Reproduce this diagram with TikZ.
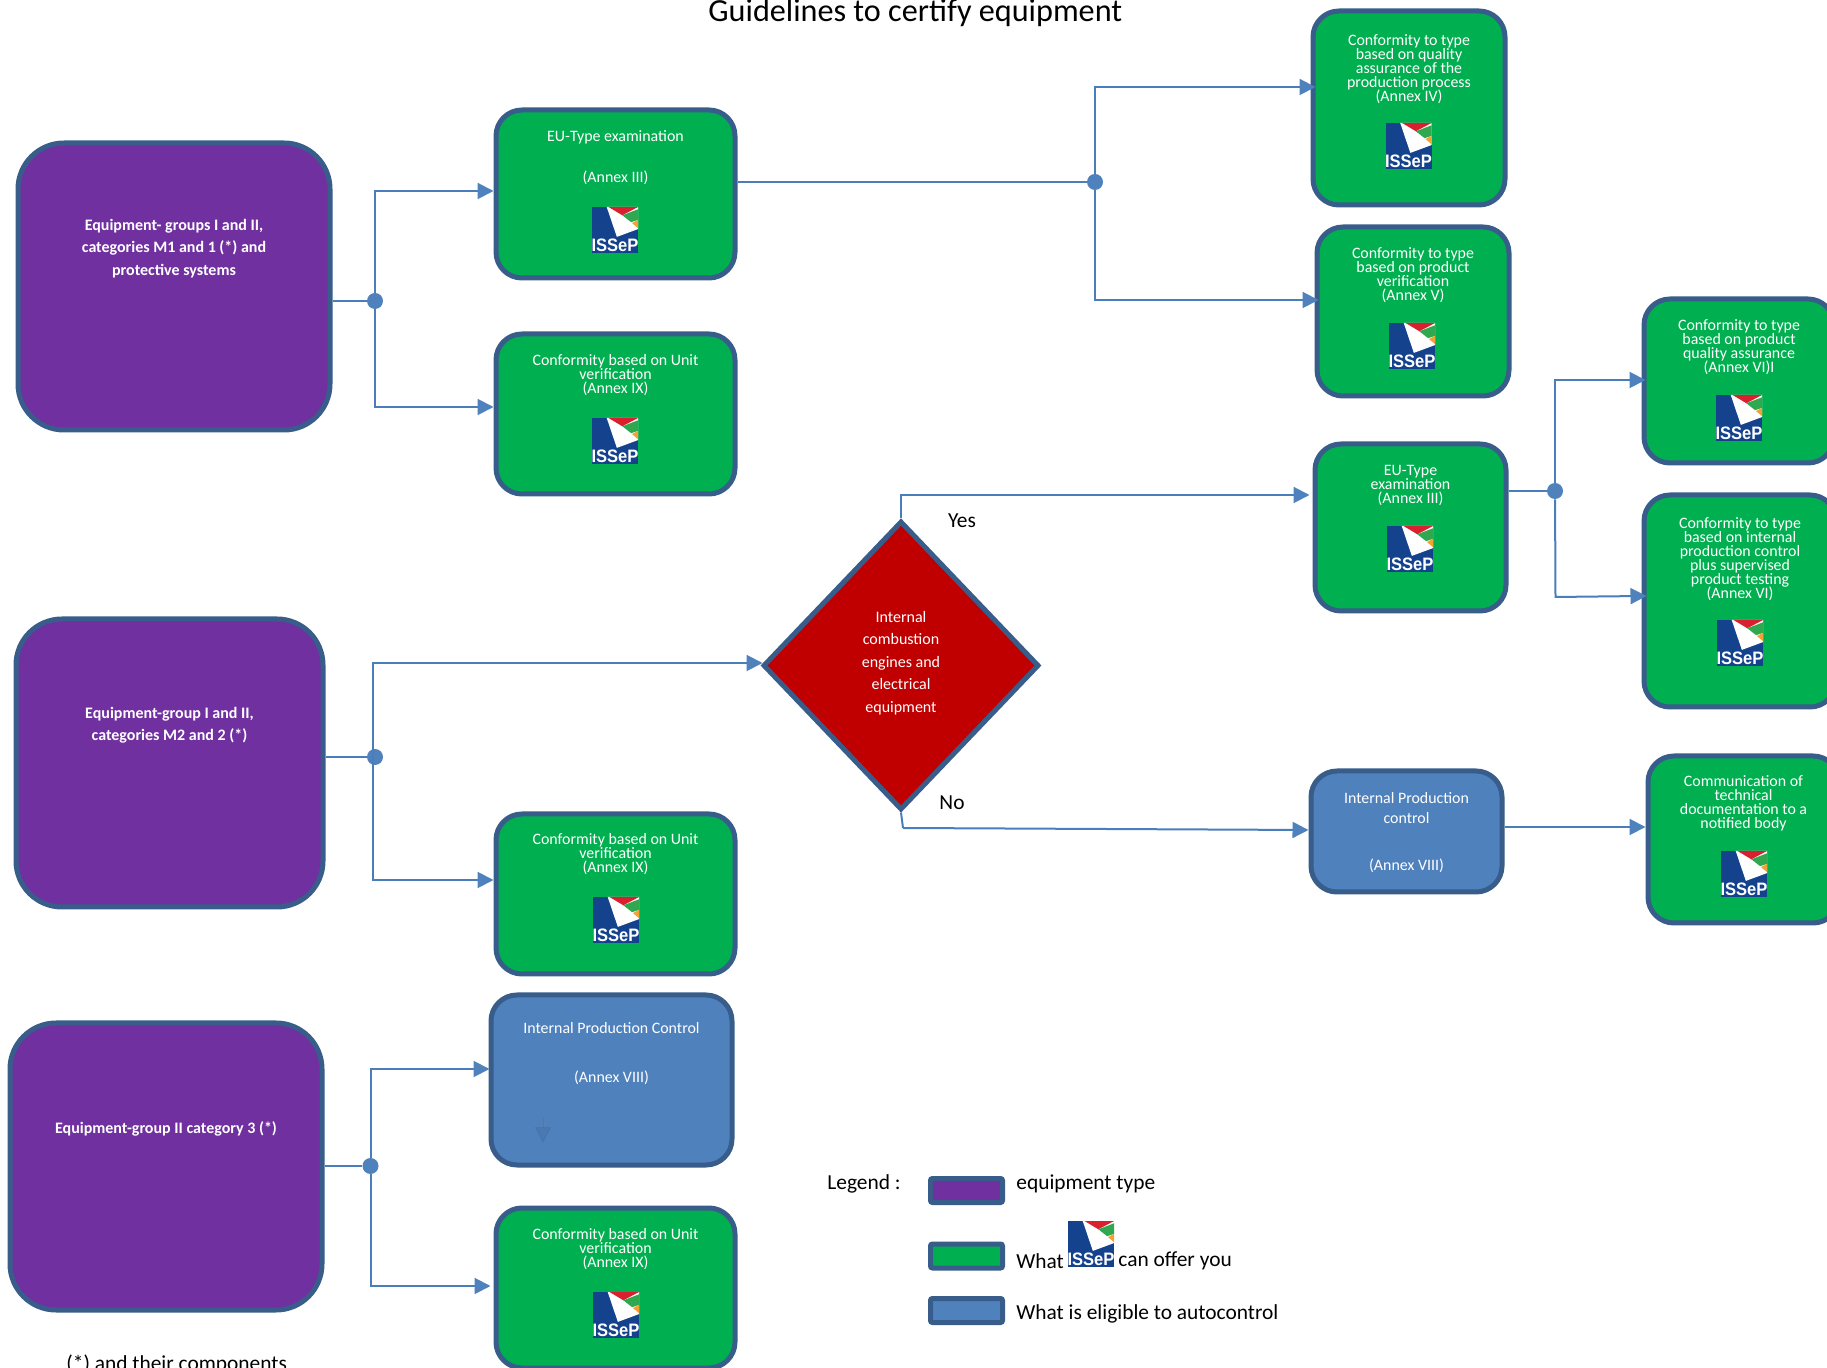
\documentclass[tikz,border=0pt]{standalone}
\usepackage{fontspec}
\setmainfont{Carlito}
\newfontfamily\logofont{Liberation Sans}
\usetikzlibrary{arrows.meta, shapes.geometric}
\setlength{\lineskiplimit}{-10pt}
\definecolor{boxline}{HTML}{385D8A}
\definecolor{flowline}{HTML}{4A7EBB}
\definecolor{flowtip}{HTML}{4F81BD}
\definecolor{typepurple}{HTML}{7030A0}
\definecolor{offergreen}{HTML}{00B050}
\definecolor{autoblue}{HTML}{4F81BD}
\definecolor{choicered}{HTML}{C00000}
\definecolor{logoblue}{HTML}{14428C}
\definecolor{logored}{HTML}{D9202E}
\definecolor{logogreen}{HTML}{2FA84F}
\definecolor{logoorange}{HTML}{F5A030}
\newcommand{\padup}[1]{\\[#1]\mbox{}}
\tikzset{
boxsize/.style 2 args={minimum width=#1*0.5pt-2pt, minimum height=#2*0.5pt-2pt},
plainbox/.style={draw=boxline, line width=2.5pt, rounded corners=13pt, inner sep=0pt, align=center, text=white, font=\fontsize{7.95}{7}\selectfont},
greenbox/.style={plainbox, fill=offergreen},
bluebox/.style={plainbox, fill=autoblue},
purplebox/.style={plainbox, fill=typepurple, rounded corners=23pt, font=\fontsize{8}{11.2}\selectfont\bfseries},
swatch/.style={draw=boxline, line width=2.5pt, rounded corners=1pt, minimum width=36pt, minimum height=12pt, inner sep=0pt},
choice/.style={diamond, draw=boxline, line width=2.5pt, fill=choicered, aspect=0.95, inner sep=0pt, align=center, text=white, font=\fontsize{8}{11.2}\selectfont},
flow/.style={draw=flowline, line width=1pt},
arrowed/.style={flow, shorten >=#1, -{Triangle[length=8pt,width=8pt,color=flowtip]}},
arrowed/.default=0pt,
dot/.style={circle, fill=flowtip, minimum size=8pt, inner sep=0pt},
plaintext/.style={inner sep=0pt, font=\fontsize{10.7}{12}\selectfont},
isseplogo/.pic={
\begin{scope}[x=0.23pt, y=-0.23pt, shift={(-50,-50)}]
\fill[logoblue] (0,0) rectangle (100,100);
\fill[white] (32,0)--(100,0)--(100,48)--(54,65)--cycle;
\fill[logored] (36,0)--(100,0)--(66,18)--cycle;
\fill[logogreen] (66,18)--(100,5)--(100,28)--(85,33)--cycle;
\fill[logoorange] (87,35)--(100,28)--(100,46)--cycle;
\node (logoname) at (50,84) [inner sep=0pt, text=white, font=\logofont\fontsize{9}{9}\selectfont\bfseries] {\scalebox{0.92}[1]{ISSeP}};
\end{scope}
}
}
\begin{document}
\begin{tikzpicture}[x=0.5pt, y=-0.5pt]
\clip (0,0) rectangle (1827,1368);
\node (title) at (708,22) [inner sep=0pt, anchor=base west, font=\fontsize{16.1}{18}\selectfont] {Guidelines to certify equipment};
\node (purpleone) at (174,286.5) [purplebox, boxsize={316}{291}] {Equipment- groups I and II,\\categories M1 and 1 (*) and\\protective systems\padup{28pt}};
\node (purpletwo) at (169.5,763) [purplebox, boxsize={311}{292}] {Equipment-group I and II,\\categories M2 and 2 (*)\padup{28pt}};
\node (purplethree) at (166,1166.5) [purplebox, boxsize={316}{291}] {Equipment-group II category 3 (*)\padup{28pt}};
\node (euone) at (615.5,194) [greenbox, boxsize={243}{172}] {EU-Type examination\\[13.5pt](Annex III)\padup{30pt}};
\node (unitone) at (615.5,414) [greenbox, boxsize={243}{164}] {Conformity based on Unit\\verification\\(Annex IX)\padup{33.5pt}};
\node (unittwo) at (615.5,894) [greenbox, boxsize={243}{164}] {Conformity based on Unit\\verification\\(Annex IX)\padup{34pt}};
\node (ipcleft) at (611.5,1080) [bluebox, boxsize={245}{174}] {Internal Production Control\\[17.5pt](Annex VIII)\padup{21pt}};
\node (unitthree) at (615.5,1288) [greenbox, boxsize={243}{164}] {Conformity based on Unit\\verification\\(Annex IX)\padup{33pt}};
\node (quality) at (1409,108) [greenbox, boxsize={196}{198}] {Conformity to type\\based on quality\\assurance of the\\production process\\(Annex IV)\padup{33pt}};
\node (product) at (1413,311.5) [greenbox, boxsize={196}{173}] {Conformity to type\\based on product\\verification\\(Annex V)\padup{30pt}};
\node (eumid) at (1410.5,527.5) [greenbox, boxsize={195}{171}] {EU-Type\\examination\\(Annex III)\padup{36pt}};
\node (ipcright) at (1406.5,831.5) [bluebox, boxsize={195}{125}] {\mbox{}\\[0pt]Internal Production\\[3pt]control\\[16.5pt](Annex VIII)};
\node (assurance) at (1739,381) [greenbox, boxsize={194}{168}] {Conformity to type\\based on product\\quality assurance\\(Annex VI)I\padup{28pt}};
\node (internal) at (1740,601) [greenbox, boxsize={196}{216}] {Conformity to type\\based on internal\\production control\\plus supervised\\product testing\\(Annex VI)\padup{36pt}};
\node (techdoc) at (1743.5,839.5) [greenbox, boxsize={195}{171}] {Communication of\\technical\\documentation to a\\notified body\padup{30pt}};
\node (engines) at (901,665.5) [choice, minimum width=138pt, minimum height=144.5pt] {Internal\\combustion\\engines and\\electrical\\equipment\padup{-7.5pt}};
\foreach \x/\y in {615/230,615/441,616/920,616/1315,1408.5/146,1412/346,1410/549,1739/418,1740/643,1744/874,1091/1244}
\pic at (\x,\y) {isseplogo};
\node (dotone) at (375,301) [dot] {};
\node (dottwo) at (375,757) [dot] {};
\node (dotthree) at (370.5,1166) [dot] {};
\node (dotfour) at (1095,182) [dot] {};
\node (dotfive) at (1555,491) [dot] {};
\coordinate (jointwo) at (373,757);
\coordinate (kneefive) at (1555.5,597);
\coordinate (kneesix) at (903,828);
\draw[flow] (purpleone.east |- dotone)--(dotone);
\draw[arrowed] (dotone) |- (euone.west |- 0,191);
\draw[arrowed] (dotone) |- (unitone.west |- 0,407);
\draw[flow] (purpletwo.east |- dottwo)--(dottwo);
\draw[arrowed=-1pt] (jointwo) |- (engines.west |- 0,663);
\draw[arrowed] (jointwo) |- (unittwo.west |- 0,880);
\draw[flow] (purplethree.east |- dotthree)--(dotthree);
\draw[arrowed=-0.5pt] (dotthree) |- (ipcleft.west |- 0,1069);
\draw[arrowed=1.5pt] (dotthree) |- (unitthree.west |- 0,1286);
\draw[flow] (euone.east |- dotfour)--(dotfour);
\draw[arrowed=-2.5pt] (dotfour) |- (quality.west |- 0,87);
\draw[arrowed=-2pt] (dotfour) |- (product.west |- 0,300);
\draw[flow] (eumid.east |- dotfive)--(dotfive);
\draw[arrowed=-2pt] (dotfive) |- (assurance.west |- 0,380);
\draw[arrowed=-2.5pt] (dotfive)--(kneefive)--(internal.west |- 0,596);
\draw[arrowed=1.5pt] (engines.north) |- (eumid.west |- 0,495);
\draw[flow] (engines.south)--(kneesix);
\draw[arrowed] (kneesix)--(ipcright.west |- 0,830);
\draw[arrowed] (ipcright.east |- 0,827)--(techdoc.west |- 0,827);
\coordinate (faintstart) at (543,1118);
\coordinate (faintend) at (543,1143);
\draw[draw=boxline, line width=0.5pt, opacity=0.2, -{Triangle[length=8pt,width=8pt,color=boxline]}] (faintstart)--(faintend);
\node (yeslabel) at (962,521) [plaintext] {Yes};
\node (nolabel) at (952,803) [plaintext] {No};
\node (footnote) at (66,1370) [plaintext, anchor=base west] {(*) and their components};
\node (legendlabel) at (827,1184) [plaintext, anchor=west] {Legend :};
\node (swatchpurple) at (966.5,1190.5) [swatch, fill=typepurple] {};
\node (swatchgreen) at (966.5,1256) [swatch, fill=offergreen] {};
\node (swatchblue) at (966.5,1310.5) [swatch, fill=autoblue] {};
\node (legendone) at (1016,1184) [plaintext, anchor=west] {equipment type};
\node (legendwhat) at (1016,1261) [plaintext, anchor=west] {What};
\node (legendoffer) at (1118,1261) [plaintext, anchor=west] {can offer you};
\node (legendthree) at (1016,1314) [plaintext, anchor=west] {What is eligible to autocontrol};
\end{tikzpicture}
\end{document}
